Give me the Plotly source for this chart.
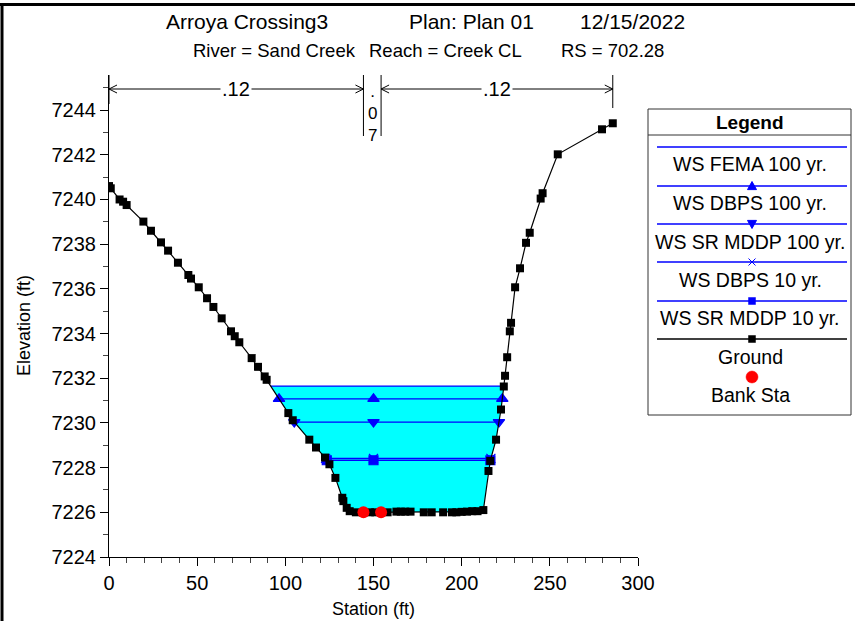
import numpy as np
import plotly.graph_objects as go

# ---------------- data ----------------
ground_sta = [0, 1, 6, 8, 10, 19.5, 23.8, 29.5, 33.5, 39.1, 45.0, 46.5, 50.9, 55.6, 59.2, 63.9,
              69.2, 71.3, 73.9, 80.9, 84.5, 88.3, 89.4, 101.7, 104.2, 113.6, 117.4, 122.5, 125.0,
              128.4, 132.3, 132.9, 134.8, 136.5, 140, 144.3, 148, 151, 154.3, 158, 163, 165.5,
              168, 171, 178.5, 183, 189.5, 194.5, 197, 200, 203, 206, 209, 212.3,
              215.2, 216.2, 219.5, 222.3, 223.9, 224.6, 225.8, 227.3, 228.0, 230.3, 233.1,
              236.5, 238.6, 244.8, 245.9, 254.5, 279.6, 285.7]
ground_elev = [7240.6, 7240.5, 7240.0, 7239.9, 7239.75, 7239.01, 7238.60, 7238.08, 7237.71, 7237.17,
               7236.62, 7236.46, 7236.07, 7235.58, 7235.19, 7234.68, 7234.10, 7233.88, 7233.61,
               7232.90, 7232.51, 7232.08, 7231.93, 7230.44, 7230.12, 7229.25, 7228.90, 7228.45,
               7228.15, 7227.54, 7226.65, 7226.50, 7226.20, 7226.05, 7226.0, 7226.0, 7226.0,
               7226.0, 7226.0, 7226.0, 7226.03, 7226.03, 7226.03, 7226.03, 7226.0, 7226.0, 7226.0,
               7226.0, 7226.0, 7226.02, 7226.03, 7226.05, 7226.05, 7226.1,
               7227.85, 7228.3, 7229.25, 7230.6, 7231.63, 7232.11, 7232.94, 7234.10, 7234.48,
               7236.07, 7236.92, 7238.06, 7238.51, 7240.04, 7240.28, 7242.02, 7243.14, 7243.41]

bank_sta = [144.3, 154.3]
bank_elev = [7226.0, 7226.0]

ws_names = ["WS FEMA 100 yr.", "WS DBPS 100 yr.", "WS SR MDDP 100 yr.", "WS DBPS 10 yr.", "WS SR MDDP 10 yr."]
ws_elev = [7231.65, 7231.08, 7230.04, 7228.41, 7228.33]
ws_symbols = [None, "triangle-up", "triangle-down", "x-thin", "square"]

n_values = [".12", ".07", ".12"]

title_parts = ["Arroya Crossing3", "Plan: Plan 01", "12/15/2022"]
subtitle_parts = ["River = Sand Creek", "Reach = Creek CL", "RS = 702.28"]

x_range = [0, 300]
y_range = [7224, 7245.57]

# ---------------- helpers ----------------
W, H = 855, 621
L, Rpx, T, Bpx = 109, 638, 75, 557
FONT = "Liberation Sans, Arial, sans-serif"
BLUE = "#0000ff"

def xp(p):
    return (p - L) / (Rpx - L)

def yp(p):
    return (Bpx - p) / (Bpx - T)

gx = np.array(ground_sta, float)
gy = np.array(ground_elev, float)
bottom_idx = np.where(gy <= gy.min() + 0.11)[0]
il, ir = bottom_idx[0], bottom_idx[-1]

def left_x(e):
    return float(np.interp(e, gy[:il + 1][::-1], gx[:il + 1][::-1]))

def right_x(e):
    return float(np.interp(e, gy[ir:], gx[ir:]))

fig = go.Figure()

# water fill (highest WS)
top = max(ws_elev)
xl, xr = left_x(top), right_x(top)
mask = (gx > xl) & (gx < xr)
fx = [xl] + list(gx[mask]) + [xr, xl]
fy = [top] + list(gy[mask]) + [top, top]
fig.add_trace(go.Scatter(x=fx, y=fy, fill="toself", fillcolor="#00ffff", mode="none",
                         showlegend=False, hoverinfo="skip"))

mid = (x_range[0] + x_range[1]) / 2
for name, e, sym in zip(ws_names, ws_elev, ws_symbols):
    a, b = left_x(e), right_x(e)
    fig.add_trace(go.Scatter(x=[a, b], y=[e, e], mode="lines", line=dict(color=BLUE, width=1.3),
                             showlegend=False, name=name))
    if sym:
        fig.add_trace(go.Scatter(x=[a, mid, b], y=[e, e, e], mode="markers",
                                 marker=dict(symbol=sym, color=BLUE, size=10 if "tri" in sym else 9,
                                             line=dict(color=BLUE, width=1.2)),
                                 showlegend=False, name=name))

fig.add_trace(go.Scatter(x=gx, y=gy, mode="lines+markers", line=dict(color="black", width=1.2),
                         marker=dict(symbol="square", size=8, color="black"), showlegend=False, name="Ground"))
fig.add_trace(go.Scatter(x=bank_sta, y=bank_elev, mode="markers",
                         marker=dict(symbol="circle", size=12, color="#ff0000"), showlegend=False, name="Bank Sta"))

shapes = []
annotations = []

# ---- n-value dimension marks (data coords) ----
def yv(p):
    return y_range[0] + (Bpx - p) / (Bpx - T) * (y_range[1] - y_range[0])

bounds = [gx[0], bank_sta[0], bank_sta[1], gx[-1]]
line_y = yv(89)
mark_bot = [yv(104), yv(136), yv(136), yv(108)]
for bx, mb in zip(bounds, mark_bot):
    shapes.append(dict(type="line", xref="x", yref="y", x0=bx, x1=bx, y0=yv(T), y1=mb,
                       line=dict(color="black", width=1)))
dx = 8 / ((Rpx - L) / (x_range[1] - x_range[0]))
dy = (y_range[1] - y_range[0]) / (Bpx - T) * 4
for (a, b), lab in zip([(bounds[0], bounds[1]), (bounds[2], bounds[3])], [n_values[0], n_values[2]]):
    shapes.append(dict(type="line", xref="x", yref="y", x0=a, x1=b, y0=line_y, y1=line_y,
                       line=dict(color="black", width=1)))
    shapes.append(dict(type="path", xref="x", yref="y",
                       path=f"M {a+dx},{line_y+dy} L {a},{line_y} L {a+dx},{line_y-dy}",
                       line=dict(color="black", width=1)))
    shapes.append(dict(type="path", xref="x", yref="y",
                       path=f"M {b-dx},{line_y+dy} L {b},{line_y} L {b-dx},{line_y-dy}",
                       line=dict(color="black", width=1)))
    annotations.append(dict(x=(a + b) / 2, y=line_y, xref="x", yref="y", text=lab, showarrow=False,
                            bgcolor="white", font=dict(size=20, color="black", family=FONT),
                            xanchor="center", yanchor="middle", borderpad=1))
annotations.append(dict(x=(bounds[1] + bounds[2]) / 2, y=yv(80), xref="x", yref="y",
                        text="<br>".join(list(n_values[1])), showarrow=False,
                        font=dict(size=17, color="black", family=FONT), xanchor="center", yanchor="top",
                        align="center"))

# ---- titles ----
for txt, cx in zip(title_parts, [247, 471, 632]):
    annotations.append(dict(x=xp(cx), y=yp(22), xref="paper", yref="paper", text=txt, showarrow=False,
                            font=dict(size=21, color="black", family=FONT), xanchor="center", yanchor="middle"))
for txt, cx in zip(subtitle_parts, [274, 445, 612]):
    annotations.append(dict(x=xp(cx), y=yp(51), xref="paper", yref="paper", text=txt, showarrow=False,
                            font=dict(size=18.5, color="black", family=FONT), xanchor="center", yanchor="middle"))

annotations.append(dict(x=xp(373), y=yp(609), xref="paper", yref="paper", text="Station (ft)", showarrow=False,
                        font=dict(size=18, color="black", family=FONT), xanchor="center", yanchor="middle"))
annotations.append(dict(x=xp(24), y=yp(326), xref="paper", yref="paper", text="Elevation (ft)", showarrow=False,
                        textangle=-90, font=dict(size=18, color="black", family=FONT),
                        xanchor="center", yanchor="middle"))

# ---- legend box ----
bx0, bx1, by0, by1 = 648, 851, 109, 415
shapes.append(dict(type="rect", xref="paper", yref="paper", x0=xp(bx0), x1=xp(bx1), y0=yp(by1), y1=yp(by0),
                   line=dict(color="#333333", width=1), fillcolor="white"))
shapes.append(dict(type="line", xref="paper", yref="paper", x0=xp(bx0), x1=xp(bx1), y0=yp(135), y1=yp(135),
                   line=dict(color="#333333", width=1)))
annotations.append(dict(x=xp(750), y=yp(122), xref="paper", yref="paper", text="<b>Legend</b>", showarrow=False,
                        font=dict(size=19, color="black", family=FONT), xanchor="center", yanchor="middle"))
leg_names = ws_names + ["Ground", "Bank Sta"]
line_ys = [147, 186, 224, 262, 301, 339, None]
text_ys = [164, 203, 242, 280, 318, 357, 395]
cx = 752
for i, nm in enumerate(leg_names):
    ly = line_ys[i]
    if ly is not None:
        col = "black" if nm == "Ground" else BLUE
        shapes.append(dict(type="line", xref="paper", yref="paper", x0=xp(657), x1=xp(847), y0=yp(ly), y1=yp(ly),
                           line=dict(color=col, width=1.3)))
    annotations.append(dict(x=xp(750), y=yp(text_ys[i]), xref="paper", yref="paper", text=nm, showarrow=False,
                            font=dict(size=19.5, color="black", family=FONT), xanchor="center", yanchor="middle"))

def tri(cxp, cyp, up=True, s=4.5):
    if up:
        pts = [(cxp - s, cyp + s * 0.8), (cxp + s, cyp + s * 0.8), (cxp, cyp - s)]
    else:
        pts = [(cxp - s, cyp - s * 0.8), (cxp + s, cyp - s * 0.8), (cxp, cyp + s)]
    return "M " + " L ".join(f"{xp(a)},{yp(b)}" for a, b in pts) + " Z"

shapes.append(dict(type="path", xref="paper", yref="paper", path=tri(cx, 186, True), fillcolor=BLUE,
                   line=dict(color=BLUE, width=1)))
shapes.append(dict(type="path", xref="paper", yref="paper", path=tri(cx, 224, False), fillcolor=BLUE,
                   line=dict(color=BLUE, width=1)))
for (a0, b0, a1, b1) in [(cx - 3.5, 258.5, cx + 3.5, 265.5), (cx - 3.5, 265.5, cx + 3.5, 258.5)]:
    shapes.append(dict(type="line", xref="paper", yref="paper", x0=xp(a0), y0=yp(b0), x1=xp(a1), y1=yp(b1),
                       line=dict(color=BLUE, width=1)))
shapes.append(dict(type="rect", xref="paper", yref="paper", x0=xp(cx - 3.5), x1=xp(cx + 3.5),
                   y0=yp(304.5), y1=yp(297.5), fillcolor=BLUE, line=dict(color=BLUE, width=0.5)))
shapes.append(dict(type="rect", xref="paper", yref="paper", x0=xp(cx - 3.5), x1=xp(cx + 3.5),
                   y0=yp(342.5), y1=yp(335.5), fillcolor="black", line=dict(color="black", width=0.5)))
shapes.append(dict(type="circle", xref="paper", yref="paper", x0=xp(cx - 6), x1=xp(cx + 6),
                   y0=yp(383), y1=yp(371), fillcolor="#ff0000", line=dict(color="#ff0000", width=0.5)))

# ---- outer frame (top and left) ----
shapes.append(dict(type="line", xref="paper", yref="paper", x0=xp(0), x1=xp(855), y0=yp(4.5), y1=yp(4.5),
                   line=dict(color="black", width=3)))
shapes.append(dict(type="line", xref="paper", yref="paper", x0=xp(2), x1=xp(2), y0=yp(4), y1=yp(621),
                   line=dict(color="black", width=3)))

fig.update_layout(
    width=W, height=H,
    margin=dict(l=L, r=W - Rpx, t=T, b=H - Bpx, autoexpand=False),
    paper_bgcolor="white", plot_bgcolor="white",
    showlegend=False,
    shapes=shapes, annotations=annotations,
    font=dict(family=FONT, size=15, color="black"),
)
fig.update_xaxes(range=x_range, showgrid=False, zeroline=False, showline=True, linecolor="black", linewidth=1,
                 ticks="outside", ticklen=8, tickcolor="black", dtick=50, tick0=0,
                 tickfont=dict(size=20, family=FONT, color="black"),
                 minor=dict(ticks="outside", ticklen=5, dtick=10, tickcolor="#444444"))
fig.update_yaxes(range=y_range, showgrid=False, zeroline=False, showline=True, linecolor="black", linewidth=1,
                 ticks="outside", ticklen=8, tickcolor="black", dtick=2, tick0=7224,
                 tickfont=dict(size=20, family=FONT, color="black"),
                 minor=dict(ticks="outside", ticklen=5, dtick=1, tickcolor="#444444"))

fig.write_html("out.html", config={"displayModeBar": False, "staticPlot": True},
               post_script="document.body.style.margin='0';document.body.style.overflow='hidden';")
